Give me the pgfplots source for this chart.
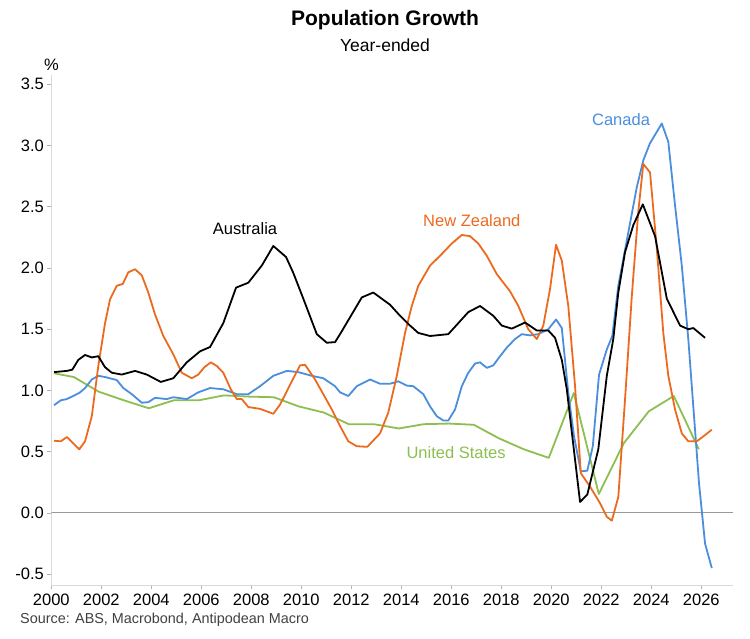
\documentclass[border=0pt]{standalone}
\usepackage{fontspec}
\setmainfont{Liberation Sans}
\usepackage{pgfplots}
\pgfplotsset{compat=1.18}

\definecolor{nzorange}{RGB}{236,106,30}
\definecolor{cablue}{RGB}{74,142,221}
\definecolor{usgreen}{RGB}{141,190,80}
\definecolor{srcgray}{RGB}{64,64,64}

\newcommand{\lab}{\fontsize{16.5}{19}\selectfont}

\begin{document}
\begin{tikzpicture}[x=1pt,y=1pt]
\path[use as bounding box] (0,0) rectangle (750,639);

\node[font={\fontsize{21}{24}\selectfont\bfseries}] at (385,619) {Population Growth};
\node[font={\fontsize{17.5}{20}\selectfont}] at (385,594) {Year-ended};
\node[font=\lab] at (51.5,574) {\%};
\node[font={\fontsize{14.4}{17}\selectfont}, text=srcgray, anchor=west, inner sep=0pt] at (20,19) {Source: ABS, Macrobond, Antipodean Macro};

\begin{axis}[
    at={(51.3pt,54pt)}, anchor=south west,
    scale only axis,
    width=682pt, height=510pt,
    xmin=2000, xmax=2027.28,
    ymin=-0.588, ymax=3.576,
    axis x line*=bottom, axis y line*=left,
    axis line style={draw=black!15, line width=0.8pt},
    xtick={2000,2002,...,2026},
    ytick={-0.5,0,0.5,1,1.5,2,2.5,3,3.5},
    tick align=outside,
    major tick length=4pt,
    tick style={draw=black!30, line width=0.8pt},
    /pgf/number format/assume math mode=true,
    xticklabel style={/pgf/number format/1000 sep={}, font=\lab, yshift=-1pt},
    yticklabel style={/pgf/number format/fixed, /pgf/number format/fixed zerofill,
        /pgf/number format/precision=1, font=\lab, xshift=0pt},
    line join=round,
]

\addplot[black!40, line width=1pt, forget plot] coordinates {(2000,0) (2027.28,0)};

% United States
\addplot[usgreen, line width=1.8pt] coordinates {
(2000.11,1.14) (2000.9,1.11) (2001.9,0.99) (2002.9,0.92) (2003.9,0.855)
(2004.9,0.92) (2005.9,0.92) (2006.9,0.96) (2007.9,0.95) (2008.9,0.945)
(2009.9,0.87) (2010.9,0.82) (2011.9,0.725) (2012.9,0.725) (2013.9,0.69)
(2014.9,0.725) (2015.9,0.73) (2016.9,0.72) (2017.9,0.61) (2018.9,0.52)
(2019.9,0.45) (2020.9,0.98) (2021.9,0.155) (2022.9,0.57) (2023.9,0.83)
(2024.9,0.955) (2025.9,0.52)
};

% Canada
\addplot[cablue, line width=1.8pt] coordinates {
(2000.11,0.88) (2000.38,0.92) (2000.62,0.93) (2001.12,0.98) (2001.35,1.02)
(2001.62,1.09) (2001.88,1.12) (2002.15,1.11) (2002.62,1.085) (2002.88,1.02)
(2003.22,0.97) (2003.62,0.90) (2003.88,0.905) (2004.15,0.94) (2004.62,0.93)
(2004.88,0.945) (2005.42,0.93) (2005.88,0.985) (2006.35,1.02) (2006.88,1.01)
(2007.42,0.97) (2007.88,0.97) (2008.35,1.035) (2008.88,1.12) (2009.42,1.16)
(2009.88,1.15) (2010.42,1.12) (2010.88,1.10) (2011.35,1.035) (2011.55,0.985)
(2011.88,0.955) (2012.22,1.035) (2012.75,1.09) (2013.15,1.055) (2013.55,1.055)
(2013.88,1.075) (2014.22,1.04) (2014.48,1.035) (2014.88,0.97) (2015.15,0.87)
(2015.42,0.79) (2015.68,0.755) (2015.88,0.755) (2016.15,0.845) (2016.42,1.035)
(2016.68,1.145) (2016.95,1.22) (2017.15,1.23) (2017.42,1.185) (2017.68,1.205)
(2017.95,1.28) (2018.22,1.35) (2018.55,1.42) (2018.82,1.46) (2019.15,1.45)
(2019.48,1.46) (2019.88,1.50) (2020.19,1.58) (2020.42,1.51) (2020.68,0.98)
(2020.91,0.625) (2021.18,0.34) (2021.44,0.345) (2021.66,0.545) (2021.91,1.13)
(2022.22,1.335) (2022.44,1.445) (2022.68,1.855) (2023.08,2.29) (2023.42,2.66)
(2023.68,2.88) (2023.95,3.02) (2024.42,3.18) (2024.68,3.03) (2024.95,2.51)
(2025.22,2.02) (2025.48,1.42) (2025.68,0.87) (2025.91,0.24) (2026.15,-0.25)
(2026.42,-0.45)
};

% New Zealand
\addplot[nzorange, line width=1.8pt] coordinates {
(2000.11,0.59) (2000.38,0.585) (2000.62,0.62) (2001.12,0.52) (2001.35,0.585)
(2001.62,0.79) (2001.88,1.20) (2002.15,1.55) (2002.35,1.745) (2002.62,1.855)
(2002.86,1.87) (2003.08,1.965) (2003.35,1.99) (2003.62,1.94) (2003.88,1.80)
(2004.15,1.62) (2004.48,1.445) (2004.88,1.295) (2005.22,1.145) (2005.62,1.10)
(2005.88,1.13) (2006.12,1.19) (2006.38,1.23) (2006.62,1.20) (2006.88,1.145)
(2007.18,1.01) (2007.42,0.93) (2007.62,0.93) (2007.88,0.865) (2008.35,0.85)
(2008.88,0.81) (2009.15,0.885) (2009.62,1.075) (2009.95,1.205) (2010.15,1.21)
(2010.55,1.09) (2010.88,0.97) (2011.22,0.845) (2011.55,0.71) (2011.88,0.585)
(2012.22,0.545) (2012.64,0.54) (2013.15,0.65) (2013.48,0.82) (2013.82,1.12)
(2014.15,1.47) (2014.42,1.69) (2014.68,1.855) (2015.15,2.02) (2015.55,2.10)
(2016.02,2.20) (2016.42,2.27) (2016.75,2.26) (2017.08,2.20) (2017.42,2.10)
(2017.82,1.95) (2018.35,1.81) (2018.68,1.69) (2019.08,1.50) (2019.42,1.42)
(2019.68,1.53) (2019.95,1.83) (2020.19,2.19) (2020.42,2.06) (2020.68,1.69)
(2020.95,1.035) (2021.18,0.325) (2021.55,0.215) (2021.95,0.08) (2022.22,-0.03)
(2022.42,-0.063) (2022.68,0.13) (2022.95,0.93) (2023.22,1.77) (2023.48,2.46)
(2023.68,2.85) (2023.95,2.78) (2024.22,2.16) (2024.48,1.47) (2024.68,1.12)
(2024.95,0.845) (2025.22,0.65) (2025.48,0.585) (2025.82,0.585) (2026.08,0.625)
(2026.42,0.68)
};

% Australia
\addplot[black, line width=1.8pt] coordinates {
(2000.11,1.15) (2000.62,1.16) (2000.84,1.17) (2001.08,1.25) (2001.35,1.29)
(2001.62,1.27) (2001.88,1.28) (2002.15,1.19) (2002.42,1.145) (2002.82,1.13)
(2003.35,1.16) (2003.82,1.13) (2004.38,1.07) (2004.88,1.10) (2005.42,1.23)
(2005.95,1.32) (2006.35,1.355) (2006.88,1.55) (2007.39,1.84) (2007.88,1.88)
(2008.42,2.02) (2008.88,2.18) (2009.39,2.09) (2009.68,1.96) (2010.08,1.75)
(2010.62,1.46) (2011.02,1.39) (2011.35,1.395) (2011.55,1.46) (2012.42,1.76)
(2012.88,1.80) (2013.55,1.70) (2013.95,1.61) (2014.35,1.53) (2014.68,1.47)
(2015.15,1.445) (2015.88,1.46) (2016.68,1.64) (2017.15,1.69) (2017.68,1.61)
(2018.02,1.53) (2018.42,1.505) (2018.95,1.555) (2019.42,1.49) (2019.88,1.49)
(2020.15,1.43) (2020.42,1.25) (2020.62,1.01) (2020.82,0.66) (2021.15,0.09)
(2021.44,0.15) (2021.88,0.52) (2022.22,1.12) (2022.48,1.42) (2022.68,1.80)
(2022.95,2.13) (2023.28,2.35) (2023.66,2.52) (2024.15,2.26) (2024.62,1.75)
(2025.15,1.53) (2025.48,1.50) (2025.68,1.51) (2026.15,1.43)
};

\node[font=\lab, text=black] at (axis cs:2007.75,2.32) {Australia};
\node[font=\lab, text=nzorange] at (axis cs:2016.82,2.39) {New Zealand};
\node[font=\lab, text=cablue] at (axis cs:2022.79,3.21) {Canada};
\node[font=\lab, text=usgreen] at (axis cs:2016.19,0.49) {United States};

\end{axis}
\end{tikzpicture}
\end{document}
